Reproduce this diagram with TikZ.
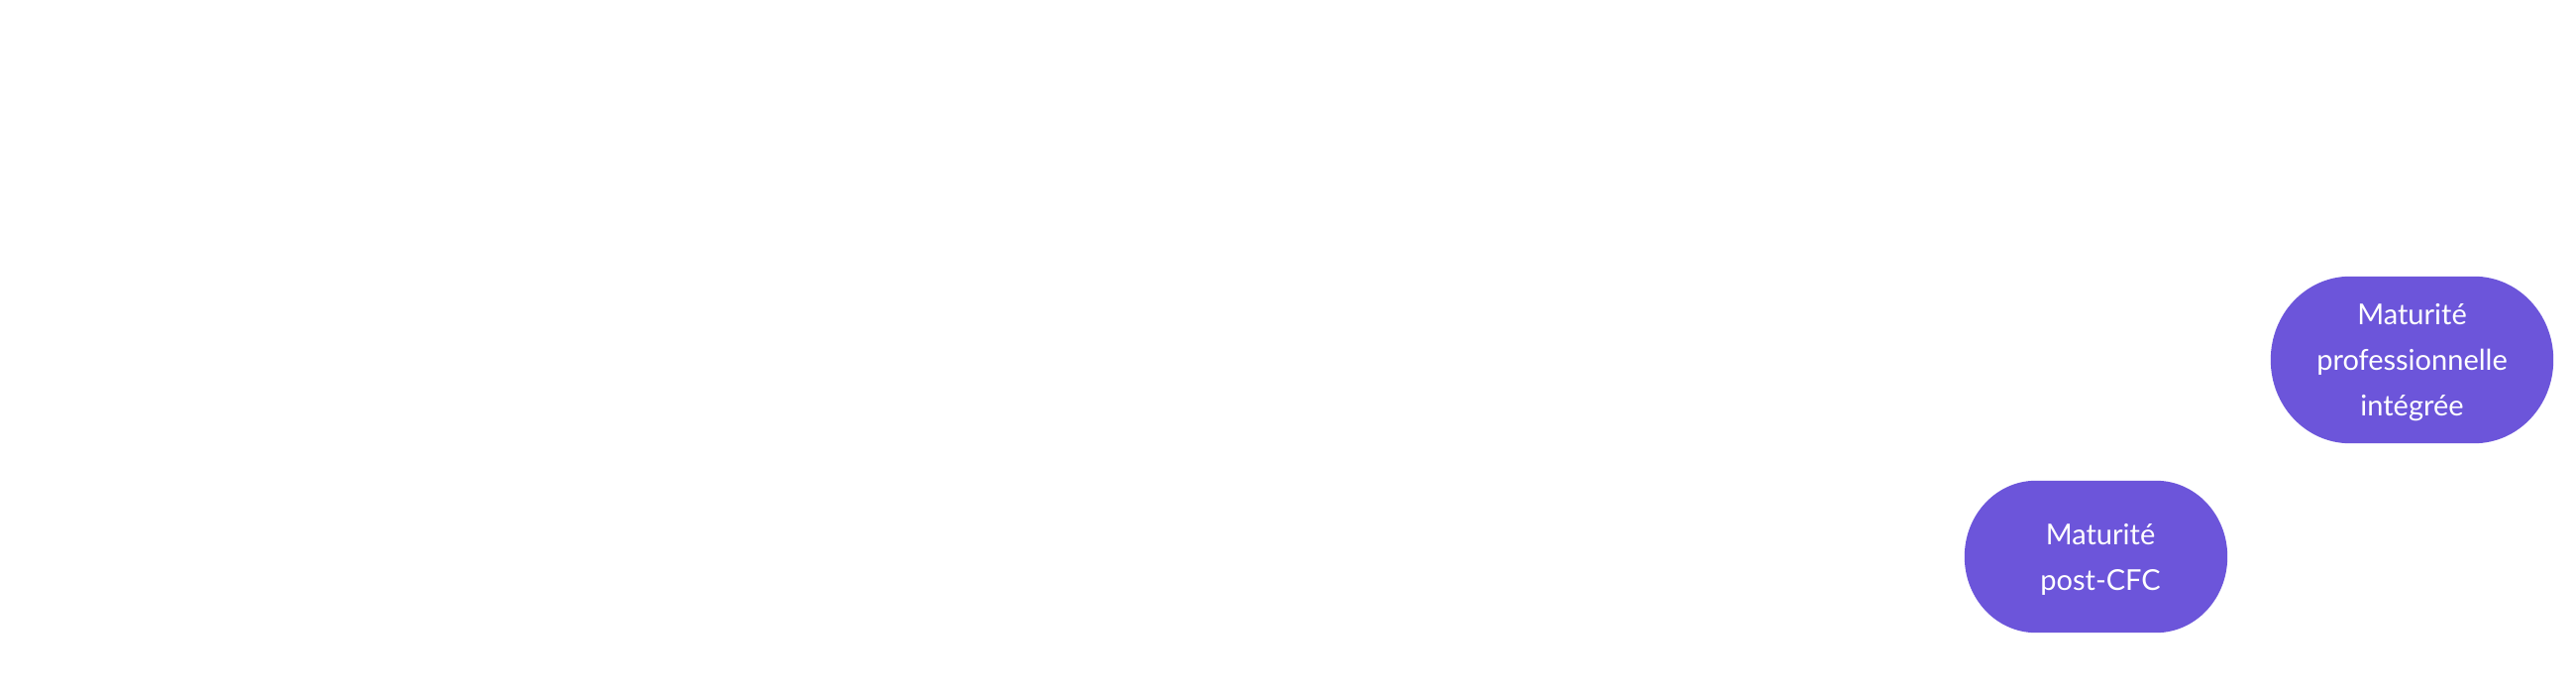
\documentclass[tikz,border=0pt]{standalone}
\usepackage{fontspec}
\setmainfont{Lato}
\usetikzlibrary{backgrounds}
\definecolor{pill}{HTML}{6C55DA}
\newcommand{\pillshape}[3]{% node, xr, yr
  \fill[pill] ([xshift=#2]#1.north west) -- ([xshift=-#2]#1.north east)
    arc[start angle=90,end angle=0,x radius=#2,y radius=#3]
    -- ([yshift=#3]#1.south east)
    arc[start angle=0,end angle=-90,x radius=#2,y radius=#3]
    -- ([xshift=#2]#1.south west)
    arc[start angle=-90,end angle=-180,x radius=#2,y radius=#3]
    -- ([yshift=-#3]#1.north west)
    arc[start angle=180,end angle=90,x radius=#2,y radius=#3] -- cycle;}
\begin{document}
\begin{tikzpicture}[x=1pt,y=-1pt,
  pillframe/.style={draw=none,inner sep=0pt},
  pilltext/.style={draw=none,text=white,align=center,
    font=\fontsize{29}{46}\selectfont,inner sep=0pt}]
\begin{scope}[on background layer]
\fill[white] (0,0) rectangle (2600,700);
\end{scope}
\useasboundingbox (0,0) rectangle (2600,700);
\node[pillframe,minimum width=285pt,minimum height=168pt] (mpi) at (2434.5,363) {};
\node[pillframe,minimum width=265pt,minimum height=153pt] (mpc) at (2115.5,561.5) {};
\begin{scope}[on background layer]
\pillshape{mpi}{80pt}{84pt}
\pillshape{mpc}{72pt}{76.5pt}
\end{scope}
\node[pilltext] (mpi-t) at ([yshift=-3pt]mpi.center) {Maturité\\professionnelle\\intégrée};
\node[pilltext] (mpc-t) at ([xshift=4.5pt,yshift=-2.5pt]mpc.center) {Maturité\\post-CFC};
\end{tikzpicture}
\end{document}
